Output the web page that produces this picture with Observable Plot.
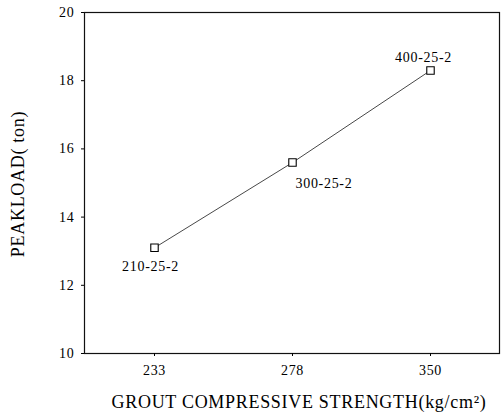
<!DOCTYPE html>
<html>
<head>
<meta charset="utf-8">
<script src="https://cdn.jsdelivr.net/npm/d3@7"></script>
<script src="https://cdn.jsdelivr.net/npm/@observablehq/plot@0.6"></script>
<style>
  html, body { margin: 0; padding: 0; background: #fff; }
</style>
</head>
<body>
<div id="chart"></div>
<script>
// Grout compressive strength (kg/cm²) per specimen, shown as categories
const strength = ["233", "278", "350"];
// Peak load (ton) per specimen
const peakLoad = [13.1, 15.6, 18.3];
// Specimen identifiers
const specimen = ["210-25-2", "300-25-2", "400-25-2"];
// Y axis tick values
const loadTicks = [10, 12, 14, 16, 18, 20];

const rows = strength.map((s, i) => ({ strength: s, load: peakLoad[i], name: specimen[i] }));

// Where each specimen label sits relative to its marker
const labelPlacement = [
  { dx: -4, dy: 19, textAnchor: "middle" },
  { dx: 3, dy: 21, textAnchor: "start" },
  { dx: -7, dy: -13, textAnchor: "middle" }
];

const serif = "'Liberation Serif', 'DejaVu Serif', serif";

const chart = Plot.plot({
  width: 502,
  height: 418,
  marginLeft: 84,
  marginRight: 3,
  marginTop: 12,
  marginBottom: 65,
  style: { fontFamily: serif, fontSize: "14px", color: "#000", background: "#fff", letterSpacing: "0.7px" },
  x: { type: "point", domain: strength, padding: 0.5, label: null },
  y: { domain: [10, 20], label: null },
  marks: [
    Plot.frame({ stroke: "#111", strokeWidth: 1.2 }),
    Plot.axisX({ tickSize: 3, tickPadding: 9, label: null, fontSize: 14 }),
    Plot.axisY({ ticks: loadTicks, tickSize: 3, tickPadding: 7, label: null, fontSize: 14 }),
    Plot.line(rows, { x: "strength", y: "load", stroke: "#333", strokeWidth: 0.9 }),
    Plot.dot(rows, { x: "strength", y: "load", symbol: "square", r: 4.2, stroke: "#000", strokeWidth: 1.1, fill: "#fff" }),
    ...labelPlacement.map((p, i) =>
      Plot.text([rows[i]], { x: "strength", y: "load", text: "name", fontSize: 14, ...p })
    ),
    // Axis titles
    Plot.text(["GROUT COMPRESSIVE STRENGTH(kg/cm²)"], {
      frameAnchor: "bottom", dy: 54, dx: 7, fontSize: 18, letterSpacing: "3px"
    }),
    Plot.text(["PEAKLOAD( ton)"], {
      frameAnchor: "left", textAnchor: "middle", dx: -66, dy: 1, rotate: -90,
      fontSize: 18, letterSpacing: "1.5px"
    })
  ]
});

document.getElementById("chart").appendChild(chart);
</script>
</body>
</html>
